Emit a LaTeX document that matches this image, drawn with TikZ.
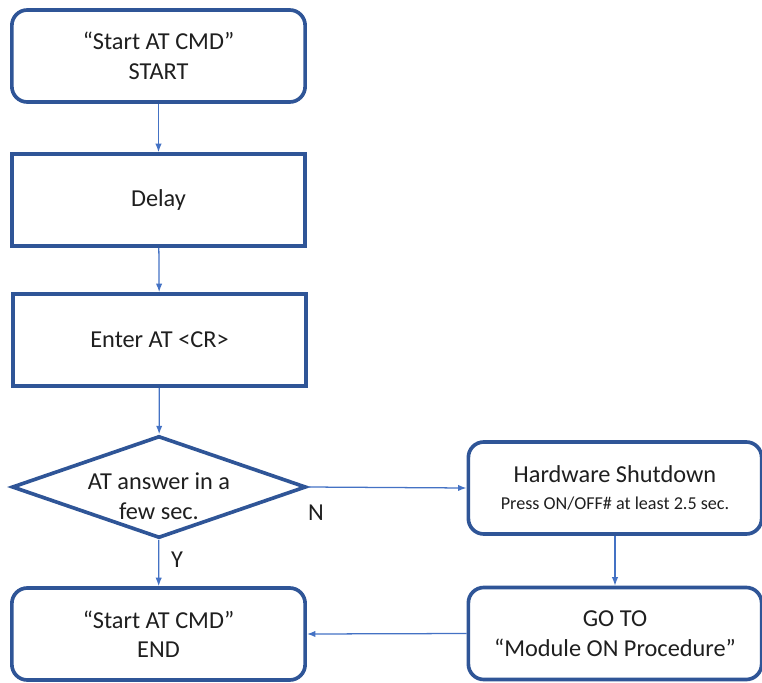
\documentclass[tikz,border=0pt]{standalone}
\usepackage{fontspec}
\setmainfont{Carlito}
\usetikzlibrary{shapes.geometric,arrows.meta}
\definecolor{boxblue}{RGB}{47,85,151}
\definecolor{lineblue}{RGB}{68,114,196}

\begin{document}
\begin{tikzpicture}[x=0.025cm,y=-0.025cm,>={Latex[length=6pt,width=4.5pt]}]
    \tikzstyle{rbox}=[rectangle,rounded corners=11pt,draw=boxblue,line width=2.6pt,fill=white,minimum width=7.33cm,minimum height=2.3cm,align=center,text=black!88,font=\fontsize{17.3}{21}\selectfont]
    \tikzstyle{sbox}=[rbox,rounded corners=0pt,minimum height=2.3cm]
    \tikzstyle{decide}=[diamond,draw=boxblue,line width=2.6pt,fill=white,minimum width=7.35cm,minimum height=2.55cm,inner sep=0pt]
    \tikzstyle{flow}=[->,draw=lineblue,line width=0.9pt]
    \tikzstyle{tag}=[align=center,font=\fontsize{17.3}{21}\selectfont,text=black!88]

    \useasboundingbox (0,0) rectangle (762,683);

    \node[rbox] (start) at (158.5,56) {“Start AT CMD”\\START};
    \node[sbox] (delay) at (158.5,200) {Delay};
    \node[sbox] (enter) at (159.5,340) {Enter AT <CR>};
    \node[decide] (ask) at (159,487) {};
    \node[tag] (asktext) at (159,496) {AT answer in a\\few sec.};
    \node[rbox] (hw) at (615,488) {Hardware Shutdown\\[-2pt]{\fontsize{12.9}{15}\selectfont Press ON/OFF\# at least 2.5 sec.}};
    \node[rbox] (goto) at (615,633.5) {GO TO\\“Module ON Procedure”};
    \node[rbox] (end) at (158.5,634) {“Start AT CMD”\\END};

    \foreach \from/\to in {start/delay, delay/enter, enter/ask, ask/end, hw/goto}
        \draw[flow] (\from) -- (\to);

    \draw[flow] (ask.east) -- (hw.west);
    \draw[flow] (goto.west) -- (end.east);

    \node[tag] (no) at (316,513) {N};
    \node[tag] (yes) at (177,560) {Y};
\end{tikzpicture}
\end{document}
